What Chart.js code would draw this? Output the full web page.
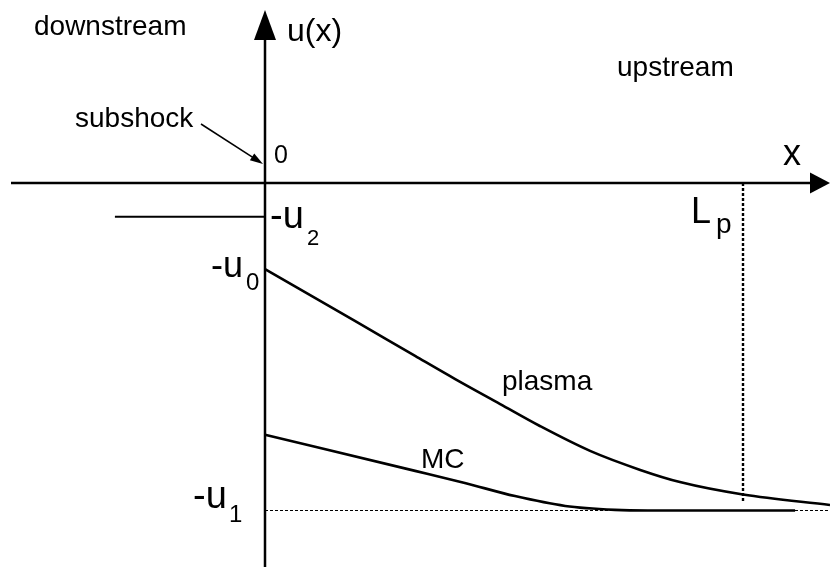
<!DOCTYPE html>
<html>
<head>
<meta charset="utf-8">
<script src="https://cdn.jsdelivr.net/npm/chart.js@4.4.0/dist/chart.umd.min.js"></script>
<style>
  html, body { margin: 0; padding: 0; background: #fff; }
  canvas { display: block; }
</style>
</head>
<body>
<canvas id="shock" width="830" height="567"></canvas>
<script>
// x in units of Lp, u in units of u1
const plasmaX = [0, 0.188, 0.314, 0.397, 0.492, 0.575, 0.680, 0.785, 0.868, 1.0, 1.182];
const plasmaU = [-0.263, -0.421, -0.528, -0.598, -0.675, -0.742, -0.818, -0.876, -0.913, -0.951, -0.983];
const mcX = [0, 0.314, 0.418, 0.523, 0.628, 0.732, 0.801, 1.109];
const mcU = [-0.769, -0.879, -0.916, -0.956, -0.986, -0.998, -1.0, -1.0];
const downX = [-0.314, 0];
const downU = [-0.103, -0.103];
const u1Level = -1.0;
const Lp = 1.0;

const X_MIN = -0.5544, X_MAX = 1.182;
const Y_MIN = -1.1725, Y_MAX = 0.5588;

function pts(xs, ys) { return xs.map((x, i) => ({ x, y: ys[i] })); }

const FONT = '"Liberation Sans", Arial, sans-serif';

// text annotations: [text, left, baseline, size]
const labels = [
  ['downstream', 34, 35, 28],
  ['upstream', 617, 76, 28],
  ['u(x)', 287, 41, 32],
  ['subshock', 75, 127, 28],
  ['0', 274, 163, 25],
  ['x', 783, 165, 36],
  ['-u', 270, 228, 38], ['2', 307, 245, 22],
  ['-u', 211, 277, 36], ['0', 246, 290, 24],
  ['-u', 193, 508, 38], ['1', 229, 522, 24],
  ['L', 691, 223, 36], ['p', 716, 233, 28],
  ['plasma', 502, 390, 28],
  ['MC', 421, 468, 28]
];

const axesPlugin = {
  id: 'axes',
  afterDatasetsDraw(chart) {
    const { ctx, scales: { x, y } } = chart;
    const ox = x.getPixelForValue(0), oy = y.getPixelForValue(0);
    ctx.save();
    ctx.strokeStyle = '#000';
    ctx.fillStyle = '#000';
    ctx.lineWidth = 2.5;
    // x axis
    ctx.beginPath();
    ctx.moveTo(11, oy);
    ctx.lineTo(812, oy);
    ctx.stroke();
    ctx.beginPath();
    ctx.moveTo(830, oy);
    ctx.lineTo(810, oy - 10.5);
    ctx.lineTo(810, oy + 10.5);
    ctx.closePath();
    ctx.fill();
    // y axis
    ctx.beginPath();
    ctx.moveTo(ox, 567);
    ctx.lineTo(ox, 38);
    ctx.stroke();
    ctx.beginPath();
    ctx.moveTo(ox, 10);
    ctx.lineTo(ox - 11, 40);
    ctx.lineTo(ox + 11, 40);
    ctx.closePath();
    ctx.fill();
    // subshock arrow
    const ax0 = 201, ay0 = 124, ax1 = ox - 2, ay1 = oy - 19;
    const ang = Math.atan2(ay1 - ay0, ax1 - ax0);
    ctx.lineWidth = 1.5;
    ctx.beginPath();
    ctx.moveTo(ax0, ay0);
    ctx.lineTo(ax1 - 8 * Math.cos(ang), ay1 - 8 * Math.sin(ang));
    ctx.stroke();
    ctx.beginPath();
    ctx.moveTo(ax1, ay1);
    ctx.lineTo(ax1 - 13 * Math.cos(ang) + 4 * Math.sin(ang), ay1 - 13 * Math.sin(ang) - 4 * Math.cos(ang));
    ctx.lineTo(ax1 - 13 * Math.cos(ang) - 4 * Math.sin(ang), ay1 - 13 * Math.sin(ang) + 4 * Math.cos(ang));
    ctx.closePath();
    ctx.fill();
    // labels
    ctx.textBaseline = 'alphabetic';
    ctx.textAlign = 'left';
    labels.forEach(([t, lx, ly, s]) => {
      ctx.font = s + 'px ' + FONT;
      ctx.fillText(t, lx, ly);
    });
    ctx.restore();
  }
};

const lineStyle = { borderColor: '#000', pointRadius: 0, showLine: true, fill: false };

new Chart(document.getElementById('shock'), {
  type: 'scatter',
  data: {
    datasets: [
      { ...lineStyle, label: 'plasma', data: pts(plasmaX, plasmaU), borderWidth: 2.6, cubicInterpolationMode: 'monotone' },
      { ...lineStyle, label: 'MC', data: pts(mcX, mcU), borderWidth: 2.6, cubicInterpolationMode: 'monotone' },
      { ...lineStyle, label: 'downstream', data: pts(downX, downU), borderWidth: 2 },
      { ...lineStyle, label: 'u1', data: pts([0, X_MAX], [u1Level, u1Level]), borderWidth: 1, borderDash: [3, 2] },
      { ...lineStyle, label: 'Lp', data: pts([Lp, Lp], [0, -0.975]), borderWidth: 2.4, borderDash: [3, 2] }
    ]
  },
  options: {
    responsive: false,
    animation: false,
    layout: { padding: 0 },
    plugins: { legend: { display: false }, tooltip: { enabled: false } },
    events: [],
    scales: {
      x: { type: 'linear', min: X_MIN, max: X_MAX, display: false },
      y: { type: 'linear', min: Y_MIN, max: Y_MAX, display: false }
    }
  },
  plugins: [axesPlugin]
});
</script>
</body>
</html>
